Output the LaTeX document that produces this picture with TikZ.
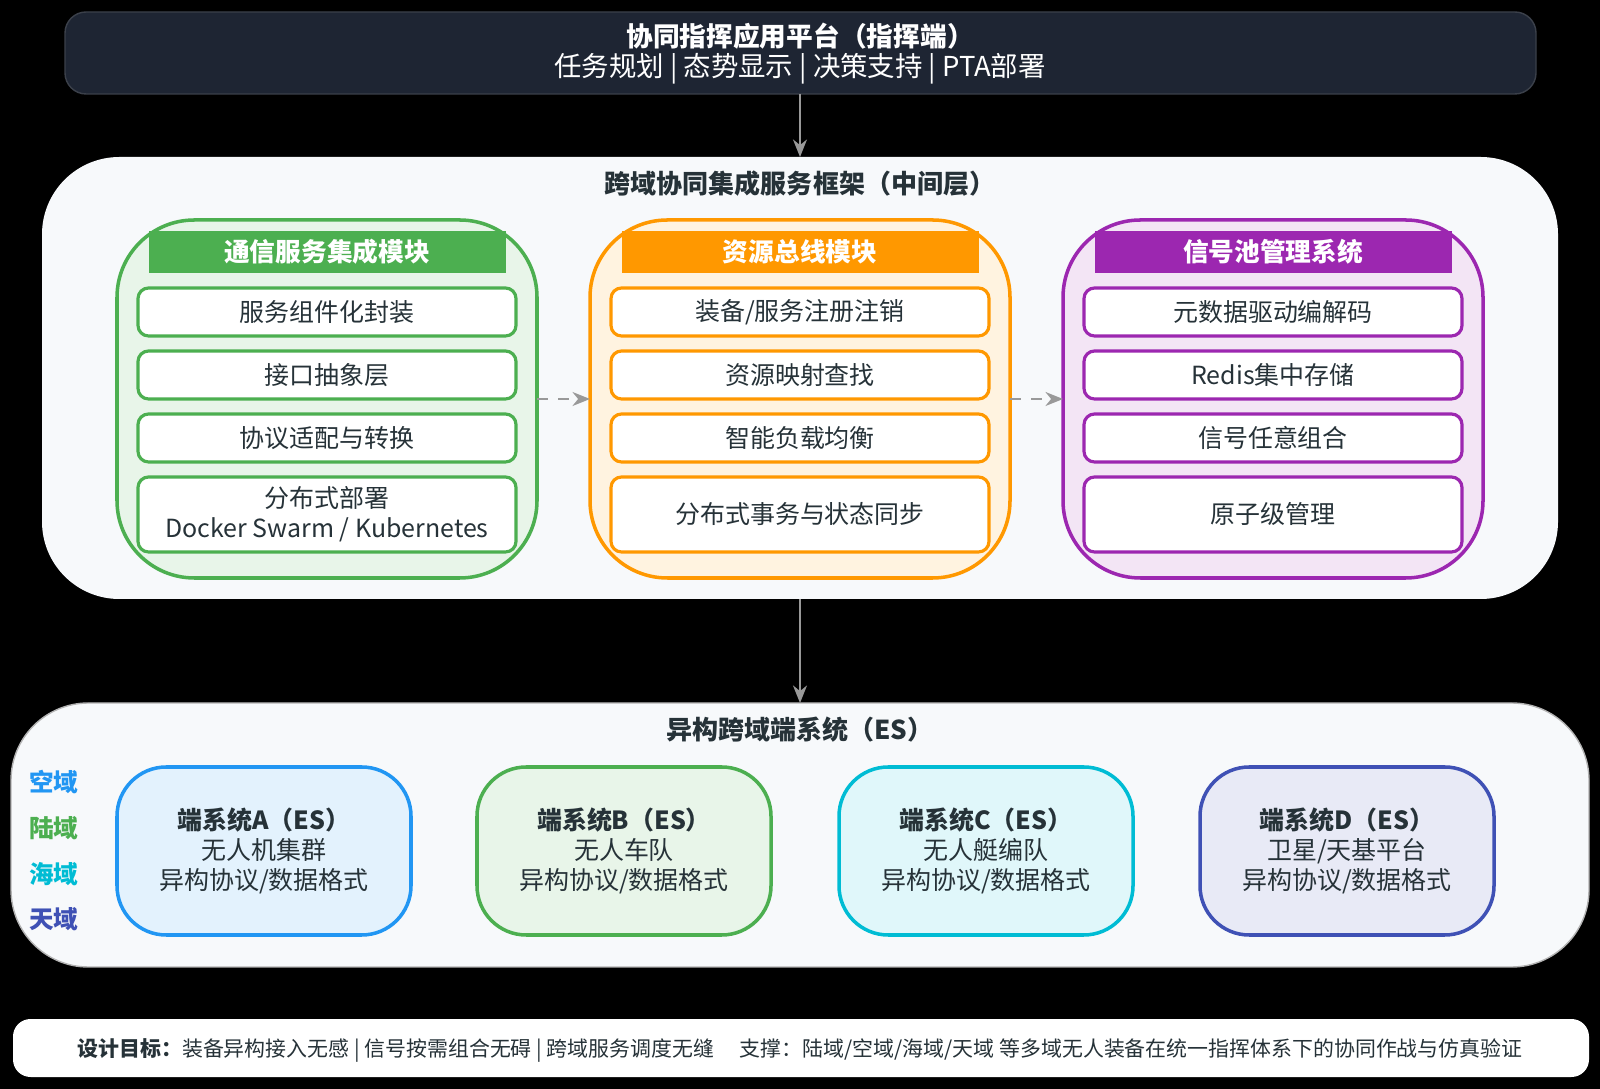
\documentclass[tikz,border=0pt]{standalone}
\usepackage{fontspec}
\setmainfont{Noto Sans CJK SC}
\usetikzlibrary{arrows.meta}
\definecolor{dark}{HTML}{1E2533}
\definecolor{gA}{HTML}{4CAF50}\definecolor{gF}{HTML}{E8F5E9}
\definecolor{oA}{HTML}{FF9800}\definecolor{oF}{HTML}{FFF3E0}
\definecolor{pA}{HTML}{9C27B0}\definecolor{pF}{HTML}{F3E5F5}
\definecolor{bA}{HTML}{2196F3}\definecolor{bF}{HTML}{E3F2FD}
\definecolor{cA}{HTML}{00BCD4}\definecolor{cF}{HTML}{E0F7FA}
\definecolor{iA}{HTML}{3F51B5}\definecolor{iF}{HTML}{E8EAF6}
\definecolor{panel}{HTML}{F7F9FB}
\definecolor{txt}{HTML}{263238}
\begin{document}
\begin{tikzpicture}[x=0.01cm,y=-0.01cm,
  item/.style={draw=#1,line width=0.9pt,fill=white,rounded corners=3pt},
  itext/.style={font=\fontsize{7.1}{8.6}\selectfont,text=txt,align=center},
  head/.style={font=\bfseries\fontsize{7.3}{8}\selectfont,text=white},
  arr/.style={-{Stealth[length=5pt,width=4pt]},draw=gray!80,line width=0.5pt},
  dom/.style={font=\bfseries\fontsize{7}{8}\selectfont}]
\fill[black] (0,0) rectangle (1600,1089);
\useasboundingbox (0,0) rectangle (1600,1089);
% top
\fill[dark,draw=gray!30!dark,rounded corners=6pt] (65,12) rectangle (1536,94);
\coordinate (topb) at (800,94);
\node[text=white,font=\bfseries\fontsize{7.6}{9}\selectfont] (t1) at (800,36) {协同指挥应用平台（指挥端）};
\node[text=white,font=\fontsize{7.8}{9}\selectfont] (t2) at (800,69) {任务规划 | 态势显示 | 决策支持 | PTA部署};
% middle
\fill[panel,rounded corners=22pt] (42,157) rectangle (1558,599);
\coordinate (midt) at (800,157);\coordinate (midb) at (800,599);
\node[text=txt,font=\bfseries\fontsize{7.4}{9}\selectfont] (mt) at (800,184) {跨域协同集成服务框架（中间层）};
\foreach \x/\c/\f/\h/\a/\b/\cc/\d/\n in {
 117/gA/gF/{通信服务集成模块}/{服务组件化封装}/{接口抽象层}/{协议适配与转换}/{分布式部署\\Docker Swarm / Kubernetes}/m1,
 590/oA/oF/{资源总线模块}/{装备/服务注册注销}/{资源映射查找}/{智能负载均衡}/{分布式事务与状态同步}/m2,
 1063/pA/pF/{信号池管理系统}/{元数据驱动编解码}/{Redis集中存储}/{信号任意组合}/{原子级管理}/m3}{
  \draw[\c,fill=\f,line width=1pt,rounded corners=22pt] (\x,220) rectangle ++(420,358);
  \coordinate (\n w) at (\x,399); \coordinate (\n e) at (\x+420,399);
  \fill[\c] (\x+32,231) rectangle ++(357,42);
  \node[head] at (\x+210,252) {\h};
  \draw[item=\c] (\x+21,288) rectangle ++(378,48); \node[itext] at (\x+210,312) {\a};
  \draw[item=\c] (\x+21,351) rectangle ++(378,48); \node[itext] at (\x+210,375) {\b};
  \draw[item=\c] (\x+21,414) rectangle ++(378,48); \node[itext] at (\x+210,438) {\cc};
  \draw[item=\c] (\x+21,477) rectangle ++(378,75); \node[itext] at (\x+210,514) {\d};
}
\draw[arr,dashed] (m1e) -- (m2w);
\draw[arr,dashed] (m2e) -- (m3w);
\draw[arr] (topb) -- (midt);
% bottom
\fill[panel,draw=gray!60,rounded corners=22pt] (11,703) rectangle (1589,967);
\coordinate (bott) at (800,703);
\draw[arr] (midb) -- (bott);
\node[text=txt,font=\bfseries\fontsize{7.4}{9}\selectfont] (bt) at (800,730) {异构跨域端系统（ES）};
\node[dom,text=bA] (d1) at (54,782) {空域};
\node[dom,text=gA] (d2) at (54,828) {陆域};
\node[dom,text=cA] (d3) at (54,874) {海域};
\node[dom,text=iA] (d4) at (54,919) {天域};
\foreach \x/\c/\f/\l/\s/\n in {117/bA/bF/A/{无人机集群}/e1,477/gA/gF/B/{无人车队}/e2,839/cA/cF/C/{无人艇编队}/e3,1200/iA/iF/D/{卫星/天基平台}/e4}{
  \draw[\c,fill=\f,line width=1pt,rounded corners=14pt] (\x,767) rectangle ++(294,168);
  \node[text=txt,align=center,font=\fontsize{7.1}{8.6}\selectfont] (\n) at (\x+147,851) {\textbf{端系统\l（ES）}\\\s\\异构协议/数据格式};
}
% footer
\fill[white,rounded corners=5pt] (13,1019) rectangle (1589,1077);
\node[text=txt,font=\fontsize{5.95}{7}\selectfont] (ft) at (800,1050) {\textbf{设计目标：}装备异构接入无感 | 信号按需组合无碍 | 跨域服务调度无缝\quad\ 支撑：陆域/空域/海域/天域 等多域无人装备在统一指挥体系下的协同作战与仿真验证};
\end{tikzpicture}
\end{document}
